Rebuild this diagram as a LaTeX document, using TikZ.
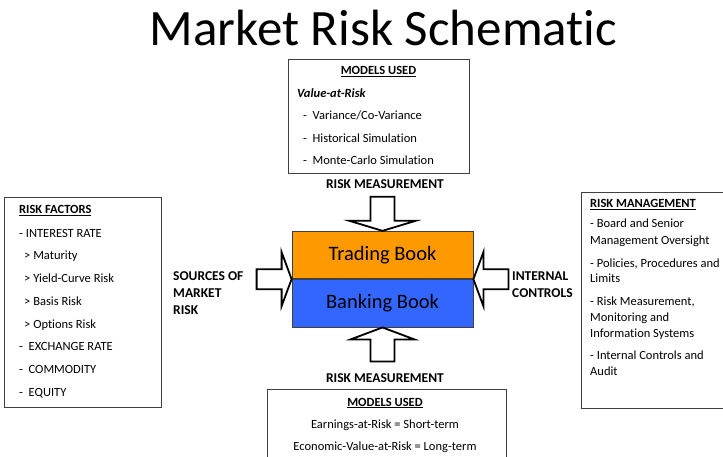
\documentclass[tikz,border=0pt]{standalone}
\usepackage{fontspec}
\setmainfont{Carlito}[Ligatures=NoCommon]
\usetikzlibrary{calc, positioning}

\definecolor{tradeorange}{HTML}{FF9900}
\definecolor{bankblue}{HTML}{3366FF}
\definecolor{boxgray}{HTML}{404040}

\begin{document}
\begin{tikzpicture}[x=1pt, y=-1pt,
	txt/.style={anchor=base west, inner sep=0, font=\fontsize{12.5}{15}\selectfont},
	ctxt/.style={txt, anchor=base},
	hd/.style={txt, font=\fontsize{12.5}{15}\selectfont\bfseries},
	lbl/.style={txt, font=\fontsize{13.5}{16}\selectfont\bfseries},
	book/.style={draw=boxgray, line width=0.8pt, minimum width=181, minimum height=47.5, inner sep=0, font=\fontsize{20.5}{24}\selectfont},
	blockarrow/.style={draw=black, line width=1.8pt, fill=white, line join=miter},
	frame/.style={draw=boxgray, line width=0.9pt}]
		\useasboundingbox (0,0) rectangle (723,457);
		\clip (0,0) rectangle (723,457);
		\fill[white] (0,0) rectangle (723,457);
		
		% Title
		\node[anchor=base, inner sep=0, font=\fontsize{51}{56}\selectfont] (title) at (383.5,46) {Market Risk Schematic};
		
		% Models used (top)
		\draw[frame] (288.5,59) rectangle (469,173.5);
		\node[hd, anchor=base] (topmod) at (378.5,75) {\underline{MODELS USED}};
		\node[txt, font=\fontsize{12.5}{15}\selectfont\bfseries\itshape] (var) at (297,98) {Value-at-Risk};
		\foreach \y/\t [count=\i] in {120/{Variance/Co-Variance}, 142.5/{Historical Simulation}, 165/{Monte-Carlo Simulation}}
			\node[txt] (vm\i) at (303,\y) {-\ \ \t};
		\node[lbl, anchor=base] (rmtop) at (385,189) {RISK MEASUREMENT};
		
		% The two books
		\node[book, fill=tradeorange] (trading) at (382.5,255) {Trading Book};
		\node[book, fill=bankblue, below=0pt of trading] (banking) {Banking Book};
		
		% Block arrows into the books
		\draw[blockarrow] (trading.north) -- ++(-33,-10) -- ++(21,0) -- ++(0,-24) -- ++(24,0) -- ++(0,24) -- ++(21,0) -- cycle;
		\draw[blockarrow] (banking.south) -- ++(-32,12) -- ++(20,0) -- ++(0,22) -- ++(24,0) -- ++(0,-22) -- ++(20,0) -- cycle;
		\draw[blockarrow] (trading.south west) -- ++(-10,-27) -- ++(0,17) -- ++(-25,0) -- ++(0,20) -- ++(25,0) -- ++(0,17) -- cycle;
		\draw[blockarrow] (trading.south east) -- ++(10,-27) -- ++(0,17) -- ++(25,0) -- ++(0,20) -- ++(-25,0) -- ++(0,17) -- cycle;
		
		% Arrow labels
		\node[lbl] (src1) at (173,280) {SOURCES OF};
		\node[lbl] (src2) at (173,297) {MARKET};
		\node[lbl] (src3) at (173,314) {RISK};
		\node[lbl] (ic1) at (512,280) {INTERNAL};
		\node[lbl] (ic2) at (512,297) {CONTROLS};
		
		% Risk factors
		\draw[frame] (4,197.5) rectangle (161,407);
		\node[hd] (rf) at (19,214) {\underline{RISK FACTORS}};
		\foreach \y/\x/\t [count=\i] in {237/19/{- INTEREST RATE}, 259.5/24/{> Maturity}, 282.5/24/{> Yield-Curve Risk}, 305/24/{> Basis Risk}, 328/24/{> Options Risk}, 350.5/19/{-\ \ EXCHANGE RATE}, 373/19/{-\ \ COMMODITY}, 396/19/{-\ \ EQUITY}}
			\node[txt] (rf\i) at (\x,\y) {\t};
		
		% Risk management
		\draw[frame] (581,192) rectangle (730,408);
		\node[hd] (rmg) at (590,208) {\underline{RISK MANAGEMENT}};
		\foreach \y/\t [count=\i] in {228/{- Board and Senior}, 244.5/{Management Oversight}, 267/{- Policies, Procedures and}, 283/{Limits}, 305/{- Risk Measurement,}, 321/{Monitoring and}, 337/{Information Systems}, 359/{- Internal Controls and}, 375/{Audit}}
			\node[txt] (rmg\i) at (590,\y) {\t};
		
		% Models used (bottom)
		\node[lbl, anchor=base] (rmbot) at (385,382) {RISK MEASUREMENT};
		\draw[frame] (267,389) rectangle (506,470);
		\node[hd, anchor=base] (botmod) at (385,406) {\underline{MODELS USED}};
		\node[ctxt] (ear) at (385,428) {Earnings-at-Risk = Short-term};
		\node[ctxt] (evr) at (385,450.5) {Economic-Value-at-Risk = Long-term};
	\end{tikzpicture}
\end{document}
